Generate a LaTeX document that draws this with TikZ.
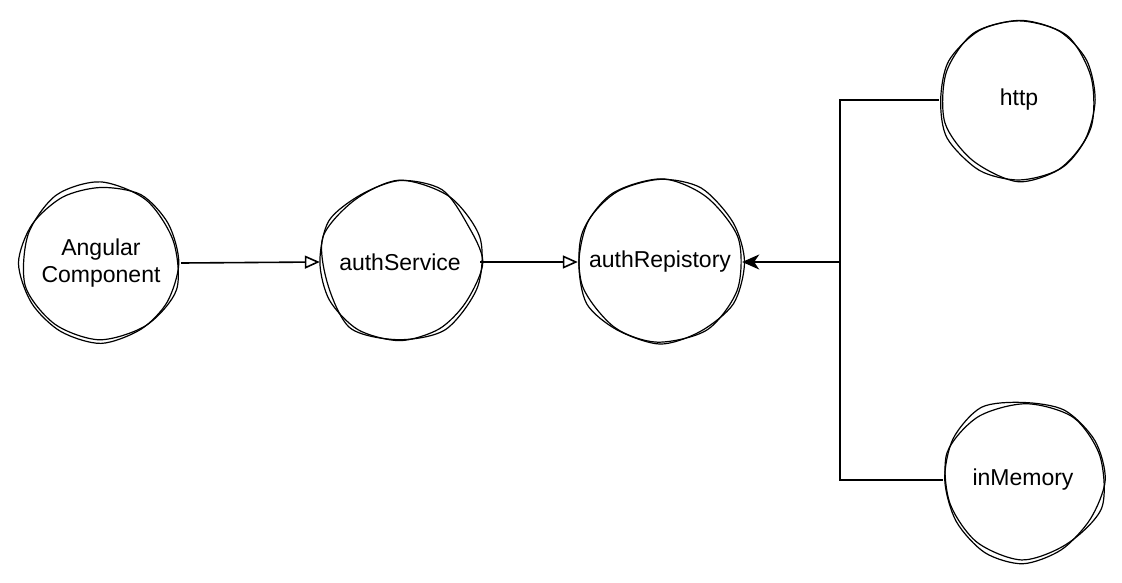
\documentclass[tikz,border=0pt]{standalone}
\usepackage{fontspec}
\setmainfont{Liberation Sans}
\usetikzlibrary{arrows.meta}
\usetikzlibrary{calc}
\usetikzlibrary{positioning}

% hand drawn ring round a named node: two wobbly loops
\newcommand\sketchring[2][80]{%
    \draw[ring, shift={(#2.center)}]
        plot[smooth cycle, domain=0:330, samples=12] (\x:{#1+4*(2*rnd-1)});
    \draw[ring, shift={(#2.center)}, rotate=17]
        plot[smooth cycle, domain=0:324, samples=10] (\x:{#1+4.5*(2*rnd-1)});
}

\begin{document}
\begin{tikzpicture}[
            x=1pt, y=-1pt,
            font=\fontsize{23}{27}\selectfont,
            unit/.style={
                circle, minimum size=160pt, inner sep=0pt, align=center,
            },
            ring/.style={line width=1.2pt, line join=round},
            flow/.style={line width=1.6pt, -{Triangle[open, length=15pt, width=13pt]}},
            plain/.style={line width=1.6pt},
            inject/.style={line width=1.6pt, -{Stealth[length=17pt, width=15pt, inset=5pt]}},
        ]
            \pgfmathsetseed{11}
            \useasboundingbox (0,0) rectangle (1122,582);

            % --- main chain ---
            \node[unit] (comp) at (101,263) {Angular\\Component};
            \node[unit] (svc) at (400,262) {authService};
            \node[unit, minimum size=164pt] (repo) at (660,262) {authRepistory};

            % --- implementations on the right ---
            \node[unit] (http) at (1019,100) {http};
            \node[unit] (mem) at (1023,480) {inMemory};

            % --- sketchy outlines ---
            \sketchring[79]{comp}
            \sketchring{svc}
            \sketchring[82]{repo}
            \sketchring{http}
            \sketchring{mem}

            % --- main flow ---
            \draw[flow] (comp.east) -- (svc.west);
            \draw[flow] (svc.east) -- (repo.west);

            % --- join point for both implementations ---
            \coordinate (join) at (840,262);
            \coordinate (httpturn) at (join |- http.west);
            \coordinate (memturn) at (join |- mem.west);
            \draw[plain] (http.west) -- (httpturn) -- (memturn) -- (mem.west);
            \draw[inject] (join) -- (repo.east);
        \end{tikzpicture}
\end{document}
